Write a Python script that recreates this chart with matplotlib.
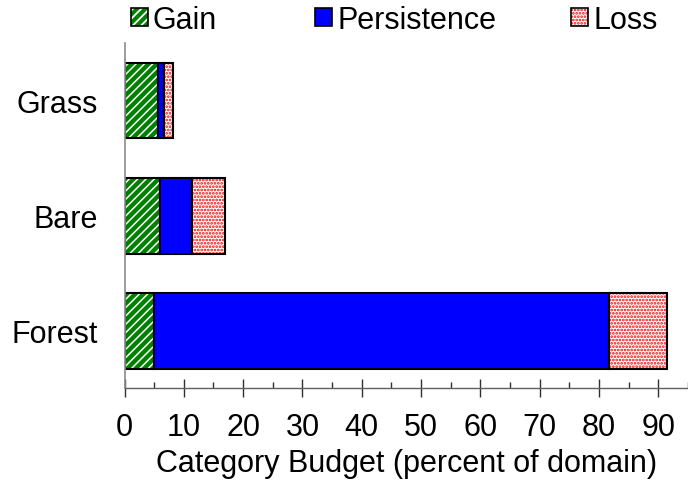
import numpy as np
import matplotlib
matplotlib.use('Agg')
import matplotlib.pyplot as plt
from matplotlib.patches import Patch
from matplotlib.legend_handler import HandlerTuple

plt.rcParams['font.family'] = ['Liberation Sans', 'DejaVu Sans']

# data (percent of domain)
categories = ['Forest', 'Bare', 'Grass']
gain = [4.9, 5.9, 5.7]
persistence = [76.8, 5.5, 1.0]
loss = [9.8, 5.6, 1.4]
xticks = [0, 10, 20, 30, 40, 50, 60, 70, 80, 90]

fs = 22
green = '#008000'
blue = '#0000ff'
red = '#ff0000'

fig = plt.figure(figsize=(6.88, 4.81), dpi=100)
ax = fig.add_axes([0.181, 0.191, 0.819, 0.7175])

y = np.arange(len(categories))
h = 0.66
left_p = np.array(gain)
left_l = left_p + np.array(persistence)

# gain: green with white diagonal stripes
plt.rcParams['hatch.linewidth'] = 1.1
ax.barh(y, gain, height=h, color=green, edgecolor='white', hatch='////', linewidth=0)
ax.barh(y, gain, height=h, fill=False, edgecolor='black', linewidth=1.5)

# persistence: solid blue
ax.barh(y, persistence, left=left_p, height=h, color=blue, edgecolor='black', linewidth=1.5)

# loss: red speckle on white
plt.rcParams['hatch.linewidth'] = 1.3
ax.barh(y, loss, left=left_l, height=h, color='white', edgecolor=red, hatch='.....', linewidth=0)
ax.barh(y, loss, left=left_l, height=h, fill=False, edgecolor='black', linewidth=1.5)

ax.set_ylim(-0.5, 2.5)
ax.set_xlim(0, 93.5)
ax.set_yticks(y)
ax.set_yticklabels(categories, fontsize=fs)
ax.set_xticks(xticks)
ax.set_xticklabels([str(t) for t in xticks], fontsize=fs)
ax.set_xticks(np.array(xticks) + 5, minor=True)

for s in ['top', 'right']:
    ax.spines[s].set_visible(False)
ax.spines['left'].set_color('#8c8c8c')
ax.spines['left'].set_linewidth(1.2)
ax.spines['bottom'].set_color('#606060')
ax.spines['bottom'].set_linewidth(1.0)

ax.tick_params(axis='y', length=0, pad=19)
ax.tick_params(axis='x', which='major', direction='inout', length=13, width=1, color='#303030', pad=11)
ax.tick_params(axis='x', which='minor', direction='in', length=4.3, width=1, color='#303030')

ax.set_xlabel('Category Budget (percent of domain)', fontsize=fs, labelpad=4)

# legend, one entry per block like the original
g1 = Patch(facecolor=green, edgecolor='white', hatch='////', linewidth=0)
g2 = Patch(fill=False, edgecolor='black', linewidth=1.2)
p1 = Patch(facecolor=blue, edgecolor='black', linewidth=1.2)
l1 = Patch(facecolor='white', edgecolor=red, hatch='.....', linewidth=0)
l2 = Patch(fill=False, edgecolor='black', linewidth=1.2)

entries = [((g1, g2), 'Gain', 131), (p1, 'Persistence', 315), ((l1, l2), 'Loss', 571)]
for handle, label, xpx in entries:
    fig.legend([handle], [label], loc='center left',
               bbox_to_anchor=(xpx / 688, 1 - 21 / 481),
               frameon=False, fontsize=fs, borderpad=0, borderaxespad=0,
               handlelength=0.55, handleheight=0.55, handletextpad=0.17,
               handler_map={tuple: HandlerTuple(ndivide=1)})

fig.savefig('out.png', dpi=100)
